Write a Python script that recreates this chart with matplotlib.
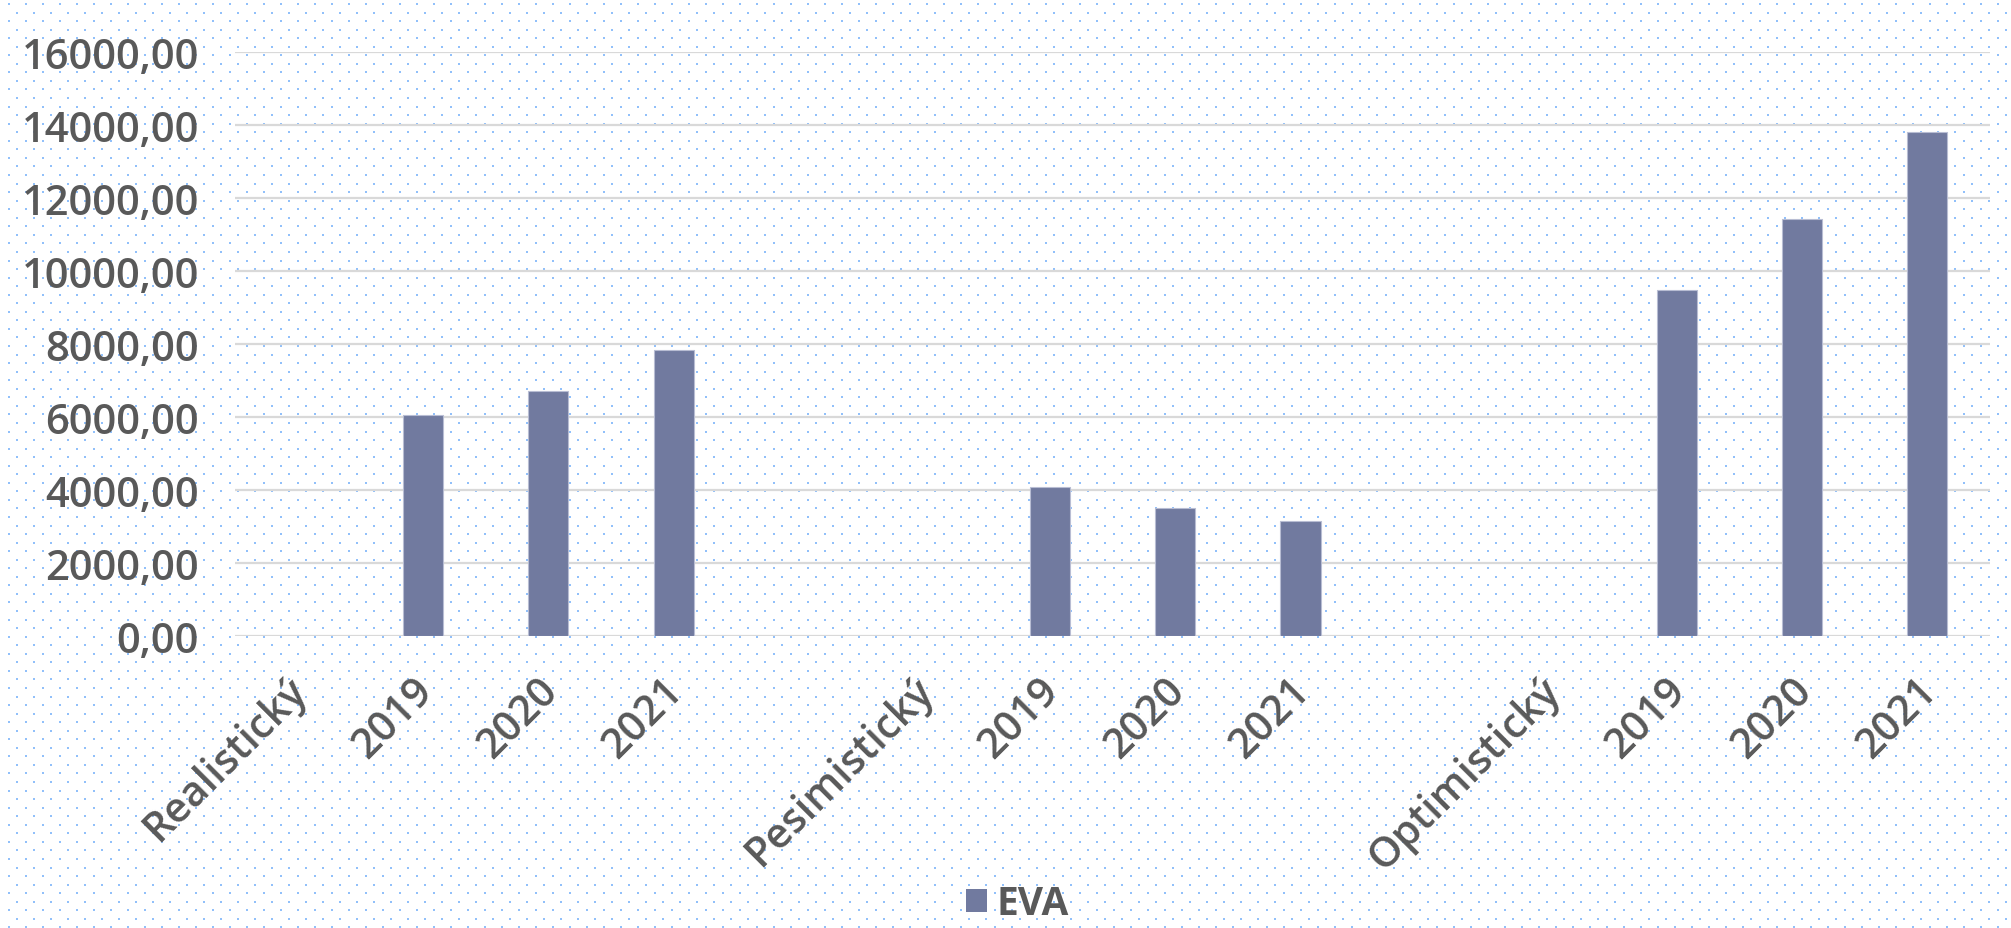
import numpy as np
import matplotlib
matplotlib.use("Agg")
import matplotlib.pyplot as plt
import matplotlib.transforms as mtransforms
from matplotlib.patches import Patch

# ---- data ----
categories = ['Realistický', '2019', '2020', '2021', '',
              'Pesimistický', '2019', '2020', '2021', '',
              'Optimistický', '2019', '2020', '2021']
eva_values = [np.nan, 6060, 6700, 7840, np.nan,
              np.nan, 4075, 3510, 3140, np.nan,
              np.nan, 9490, 11430, 13800]
y_ticks = [0, 2000, 4000, 6000, 8000, 10000, 12000, 14000, 16000]
series_name = 'EVA'

W, H, DPI = 2011, 929, 100
TEXT = '#595959'
BAR = '#717A9F'
GRID = '#D9D9D9'

plt.rcParams['font.family'] = ['Open Sans', 'DejaVu Sans']

fig = plt.figure(figsize=(W / DPI, H / DPI), dpi=DPI)

# dotted background pattern
bg = np.ones((H, W, 3))
dot = np.array([145, 192, 250]) / 255.0
row_step = 8.55
col_step = 17
r = 0
y = 4.0
while y < H:
    yi = int(round(y))
    off = 8 if r % 2 else 0
    for xs in range(off + 8, W, col_step):
        bg[yi:yi + 2, xs:xs + 2] = dot
    y += row_step
    r += 1
fig.figimage(bg, xo=0, yo=0, origin='upper', zorder=-10)

ax = fig.add_axes([235 / W, 1 - 637 / H, (1990 - 235) / W, (637 - 53) / H])
ax.set_zorder(1)
ax.set_facecolor('none')
ax.patch.set_alpha(0)

x = np.arange(len(categories))
ax.bar(x, eva_values, width=0.32, color=BAR, edgecolor='#B8BDD3',
       linewidth=0.8, zorder=3)

ax.set_xlim(-0.5, len(categories) - 0.5)
ax.set_ylim(0, 16000)
ax.set_yticks(y_ticks)
ax.set_yticklabels([f'{v:.2f}'.replace('.', ',') for v in y_ticks],
                   fontweight=600)
ax.set_xticks(x)
ax.set_xticklabels(categories, rotation=45, ha='right', fontweight=600)

for s in ax.spines.values():
    s.set_visible(False)
ax.yaxis.grid(True, color=GRID, linewidth=1.6, zorder=1)
ax.set_axisbelow(True)
ax.tick_params(axis='both', length=0, colors=TEXT, labelsize=30)
ax.tick_params(axis='y', pad=26)
ax.tick_params(axis='x', pad=24)

shift = mtransforms.ScaledTranslation(18 / DPI, 0, fig.dpi_scale_trans)
for lbl in ax.get_xticklabels():
    lbl.set_transform(lbl.get_transform() + shift)

leg = fig.legend(handles=[Patch(facecolor=BAR, edgecolor='none', label=series_name)],
                 loc='upper center', bbox_to_anchor=(0.506, 1 - 885 / H),
                 frameon=False, handlelength=0.55, handleheight=0.55,
                 handletextpad=0.25, borderpad=0, borderaxespad=0,
                 prop={'size': 28, 'weight': 'bold'}, labelcolor=TEXT)
leg.set_zorder(2)

fig.savefig('out.png', dpi=DPI)
